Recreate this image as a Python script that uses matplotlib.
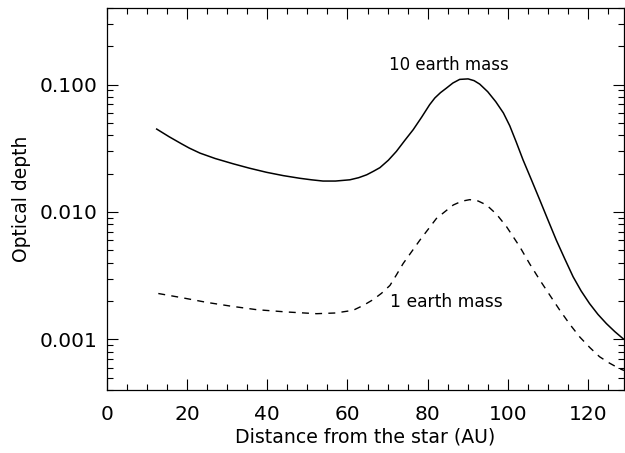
import matplotlib
matplotlib.use("Agg")
import matplotlib.pyplot as plt
from matplotlib.ticker import MultipleLocator, LogLocator, NullFormatter, FixedLocator

# 10 earth mass (solid)
x10 = [12.4, 15.5, 18.6, 20.5, 23.2, 27.0, 31.5, 35.5, 39.8, 44.0, 48.1, 51.0, 53.9,
       57.0, 60.6, 62.8, 64.8, 66.5, 68.1, 70.2, 72.2, 74.3, 76.4, 78.5, 80.5, 81.8,
       83.2, 84.7, 86.3, 88.0, 90.1, 91.6, 93.0, 95.0, 97.0, 98.9, 100.5, 102.1,
       103.8, 105.9, 108.0, 110.0, 112.1, 114.2, 116.3, 118.3, 120.4, 122.5, 124.6,
       126.7, 128.8]
y10 = [0.0448, 0.0390, 0.0343, 0.0318, 0.0290, 0.0263, 0.0239, 0.0221, 0.0205,
       0.0193, 0.0184, 0.0179, 0.0175, 0.0175, 0.0179, 0.0186, 0.0196, 0.0209,
       0.0223, 0.0255, 0.0299, 0.0365, 0.0443, 0.0555, 0.0696, 0.0786, 0.0865,
       0.0940, 0.1030, 0.1100, 0.1110, 0.1075, 0.1010, 0.0880, 0.0735, 0.0600,
       0.0475, 0.0355, 0.0257, 0.0179, 0.0124, 0.0087, 0.00602, 0.00430, 0.00310,
       0.00240, 0.00191, 0.00157, 0.00133, 0.00115, 0.00101]

# 1 earth mass (dashed)
x1 = [12.8, 18.8, 24.9, 31.0, 37.3, 44.8, 52.3, 57.0, 61.4, 64.0, 66.4, 68.5, 70.6,
      72.2, 73.9, 78.1, 82.2, 86.4, 88.5, 90.5, 92.6, 94.7, 97.2, 99.7, 103.0, 105.5,
      108.0, 110.5, 113.0, 115.5, 118.0, 120.5, 122.9, 125.4, 127.9, 129.0]
y1 = [0.00229, 0.00212, 0.00195, 0.00182, 0.00171, 0.00164, 0.00159, 0.00161,
      0.00169, 0.00185, 0.00205, 0.00230, 0.00265, 0.00320, 0.00394, 0.00603,
      0.00890, 0.01135, 0.01215, 0.01250, 0.01220, 0.01135, 0.00960, 0.00766,
      0.00533, 0.00390, 0.00292, 0.00222, 0.00169, 0.00131, 0.00104, 0.00086,
      0.00073, 0.00065, 0.000588, 0.00057]

ytick_vals = [0.001, 0.010, 0.100]
ytick_labels = ["0.001", "0.010", "0.100"]
xtick_vals = [0, 20, 40, 60, 80, 100, 120]

plt.rcParams['font.family'] = ['DejaVu Sans']
fig = plt.figure(figsize=(6.25, 4.53), dpi=100)
W, H = 625, 453
ax = fig.add_axes([107 / W, 1 - 390 / H, (624 - 107) / W, (390 - 8) / H])

ax.plot(x10, y10, color='black', lw=1.1, solid_joinstyle='round')
ax.plot(x1, y1, color='black', lw=1.0, linestyle=(0, (5, 4.5)))

ax.set_yscale('log')
ax.set_xlim(0, 129)
ax.set_ylim(4e-4, 0.40)

ax.xaxis.set_major_locator(FixedLocator(xtick_vals))
ax.xaxis.set_minor_locator(MultipleLocator(5))
ax.yaxis.set_major_locator(FixedLocator(ytick_vals))
ax.set_yticklabels(ytick_labels)
ax.yaxis.set_minor_locator(LogLocator(base=10, subs=range(2, 10)))
ax.yaxis.set_minor_formatter(NullFormatter())

ax.tick_params(which='both', direction='in', top=True, right=True, width=0.8,
               labelsize=14.5, colors='black')
ax.tick_params(which='major', length=8)
ax.tick_params(which='minor', length=4)
ax.tick_params(axis='x', which='major', pad=11)
ax.tick_params(axis='y', which='major', pad=7)
for s in ax.spines.values():
    s.set_linewidth(0.9)

ax.set_xlabel('Distance from the star (AU)', fontsize=13.6, labelpad=2)
ax.set_ylabel('Optical depth', fontsize=13.5, labelpad=6)

ax.text(85.2, 0.1435, '10 earth mass', fontsize=12, ha='center', va='center')
ax.text(84.7, 0.00197, '1 earth mass', fontsize=12.3, ha='center', va='center')

fig.savefig('out.png', dpi=100)
